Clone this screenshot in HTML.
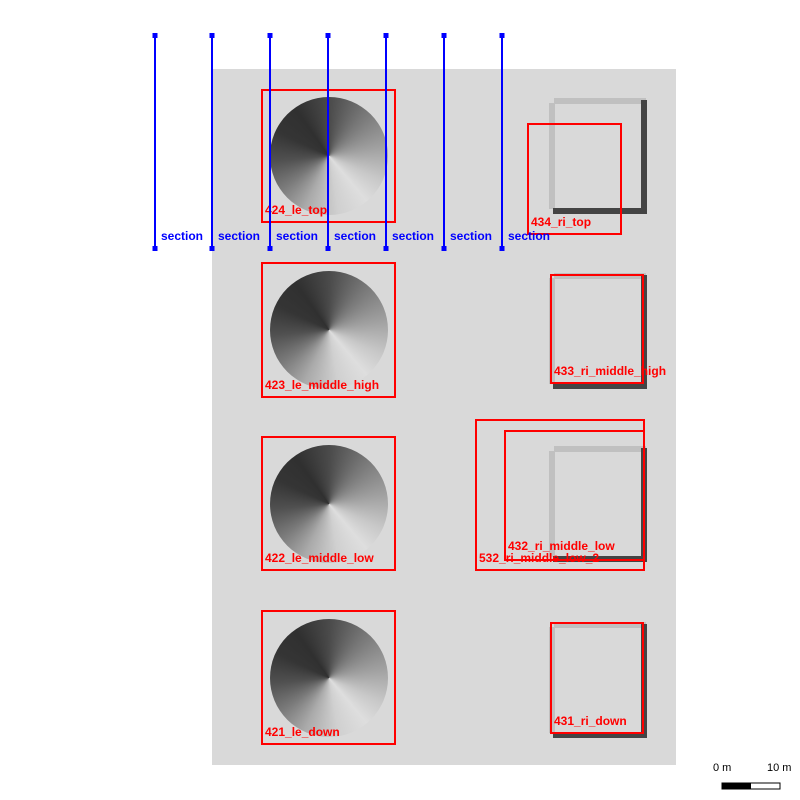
<!DOCTYPE html>
<html><head><meta charset="utf-8"><style>
body{margin:0;width:800px;height:800px;background:#fff;position:relative;overflow:hidden;font-family:"Liberation Sans",sans-serif}
.circ{position:absolute;width:118px;height:118px;border-radius:50%;
background:conic-gradient(from 0deg,#4a4a4a 0deg,#777 40deg,#a0a0a0 80deg,#c8c8c8 115deg,#dedede 140deg,#d0d0d0 170deg,#aaa 205deg,#7a7a7a 235deg,#505050 265deg,#353535 295deg,#303030 325deg,#4a4a4a 360deg)}
svg{position:absolute;left:0;top:0}
</style></head><body>
<div style="position:absolute;left:212px;top:69px;width:464px;height:696px;background:#d9d9d9"></div>
<div class="circ" style="left:270px;top:97px"></div>
<div class="circ" style="left:270px;top:271px"></div>
<div class="circ" style="left:270px;top:445px"></div>
<div class="circ" style="left:270px;top:619px"></div>
<svg width="800" height="800" font-family="Liberation Sans, sans-serif" font-weight="bold" font-size="12">
<g id="boxes"></g>
<g id="reds"></g>
<g id="secs"></g>
<g font-weight="normal" font-size="11">
<text x="713" y="771">0 m</text><text x="767" y="771">10 m</text>
<rect x="722" y="783" width="58" height="6" fill="#fff" stroke="#000"/>
<rect x="722" y="783" width="29" height="6" fill="#000"/>
</g>
</svg>
<script>
const ns='http://www.w3.org/2000/svg';
function mk(p,t,a){const e=document.createElementNS(ns,t);for(const k in a)e.setAttribute(k,a[k]);p.appendChild(e);return e;}
const boxTops=[98,273,446,622];
const bg=document.getElementById('boxes');
boxTops.forEach((y,i)=>{
 const g=mk(bg,'g',{});
 
 
 mk(g,'rect',{x:554,y:y,width:92,height:6,fill:'#c0c0c0'});
 mk(g,'rect',{x:549,y:y+5,width:6,height:106,fill:'#c0c0c0'});
 mk(g,'rect',{x:641,y:y+2,width:6,height:113,fill:'#444'});
 mk(g,'rect',{x:553,y:y+110,width:94,height:6,fill:'#444'});
});
const redRects=[[262,90,133,132],[262,263,133,134],[262,437,133,133],[262,611,133,133],[528,124,93,110],[551,275,92,108],[476,420,168,150],[505,431,139,129],[551,623,92,110]];
const redLabels=['424_le_top','423_le_middle_high','422_le_middle_low','421_le_down','434_ri_top','433_ri_middle_high','532_ri_middle_low_2','432_ri_middle_low','431_ri_down'];
const rg=document.getElementById('reds');
redRects.forEach((r,i)=>{
 const g=mk(rg,'g',{});
 
 
 mk(g,'rect',{x:r[0],y:r[1],width:r[2],height:r[3],fill:'none',stroke:'#f00','stroke-width':2});
 const ty = i===7 ? r[1]+119 : r[1]+r[3]-8;
 const t=mk(g,'text',{x:r[0]+3,y:ty,fill:'#f00'});t.textContent=redLabels[i];
});
const secX=[155,212,270,328,386,444,502];
const sg=document.getElementById('secs');
secX.forEach(x=>{
 const g=mk(sg,'g',{});
 
 
 mk(g,'line',{x1:x,y1:35,x2:x,y2:249,stroke:'#00f','stroke-width':2});
 mk(g,'rect',{x:x-2.5,y:33,width:5,height:5,fill:'#00f'});
 mk(g,'rect',{x:x-2.5,y:246,width:5,height:5,fill:'#00f'});
 const t=mk(g,'text',{x:x+6,y:240,fill:'#00f'});t.textContent='section';
});
</script>
</body></html>
